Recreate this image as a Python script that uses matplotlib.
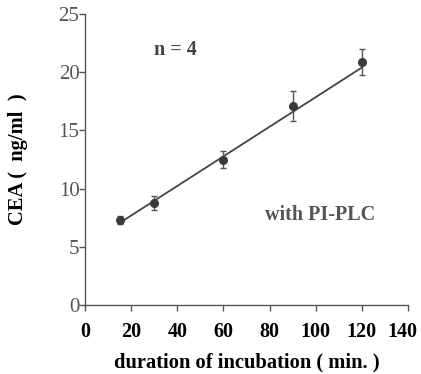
import matplotlib
matplotlib.use("Agg")
import matplotlib.pyplot as plt
import matplotlib.transforms as mtransforms
import numpy as np

time_min = [15, 30, 60, 90, 120]
cea = [7.3, 8.8, 12.5, 17.1, 20.9]
cea_err = [0.35, 0.6, 0.75, 1.25, 1.1]
fit_x = [15, 120]
fit_y = [7.05, 20.4]
xticks = [0, 20, 40, 60, 80, 100, 120, 140]
yticks = [0, 5, 10, 15, 20, 25]

plt.rcParams['font.family'] = ['Liberation Serif', 'DejaVu Serif']

fig = plt.figure(figsize=(4.21, 3.74), dpi=100)
ax = fig.add_axes([0.202, 0.1845, 0.767, 0.778])

col = '#3a3a3a'
ax.plot(fit_x, fit_y, color='#444444', lw=1.3, zorder=2)
ax.errorbar(time_min, cea, yerr=cea_err, fmt='o', color=col, ms=5.5,
            ecolor='#555555', elinewidth=1.0, capsize=2.5, capthick=1.0, zorder=3)

ax.set_xlim(0, 140)
ax.set_ylim(0, 25)
ax.set_xticks(xticks)
ax.set_yticks(yticks)
ax.spines['top'].set_visible(False)
ax.spines['right'].set_visible(False)
for s in ('left', 'bottom'):
    ax.spines[s].set_color('#555555')
    ax.spines[s].set_linewidth(1.0)
ax.tick_params(axis='both', direction='out', length=4, width=1.0, color='#555555')
ax.tick_params(axis='x', labelsize=14.5, pad=8)
ax.tick_params(axis='y', labelsize=15, pad=0, labelcolor='#555555')
xlabs = ax.get_xticklabels()
for lab in xlabs:
    lab.set_fontweight('bold')
xlabs[-1].set_transform(xlabs[-1].get_transform() +
                        mtransforms.ScaledTranslation(-6 / 100, 0, fig.dpi_scale_trans))

ax.set_xlabel('duration of incubation ( min. )', fontsize=14.8, fontweight='bold', labelpad=8)
ax.set_ylabel('CEA (  ng/ml  )', fontsize=14.8, fontweight='bold', labelpad=22)

ax.text(39, 21.9, 'n = 4', fontsize=14.5, fontweight='bold', color='#444444', ha='center', va='center')
ax.text(102, 7.7, 'with PI-PLC', fontsize=14.5, fontweight='bold', color='#555555', ha='center', va='center')

fig.savefig('out.png', dpi=100)
